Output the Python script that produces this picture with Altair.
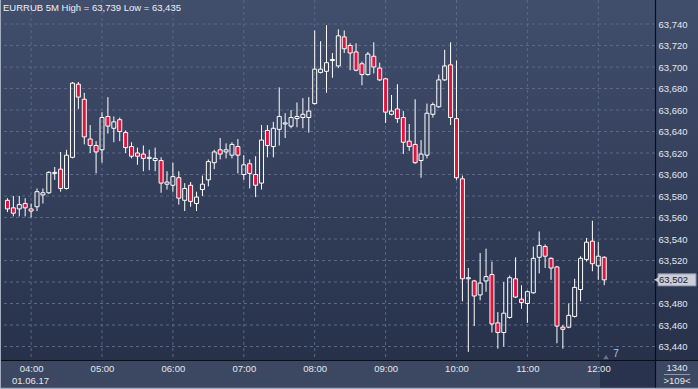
import altair as alt
import pandas as pd

# ---- data (EURRUB, 5-minute candles, 03:40 .. 12:05) ----
opens = [63.576, 63.569, 63.568, 63.573, 63.568, 63.570, 63.581, 63.583, 63.601, 63.605,
         63.587, 63.616, 63.684, 63.670, 63.633, 63.627, 63.623, 63.654, 63.643, 63.651,
         63.639, 63.626, 63.620, 63.619, 63.615, 63.613, 63.613, 63.591, 63.590, 63.597,
         63.576, 63.590, 63.573, 63.586, 63.595, 63.611, 63.623, 63.621, 63.618, 63.626,
         63.600, 63.610, 63.600, 63.592, 63.641, 63.626, 63.642, 63.647, 63.645, 63.652,
         63.653, 63.653, 63.666, 63.695, 63.696, 63.706, 63.701, 63.728, 63.720, 63.714,
         63.703, 63.693, 63.710, 63.699, 63.689, 63.656, 63.661, 63.653, 63.631, 63.628,
         63.613, 63.618, 63.656, 63.663, 63.688, 63.702, 63.652, 63.596, 63.503, 63.501,
         63.488, 63.501, 63.507, 63.462, 63.453, 63.467, 63.503, 63.484, 63.480, 63.490,
         63.523, 63.533, 63.522, 63.514, 63.458, 63.458, 63.468, 63.493, 63.521, 63.538,
         63.515, 63.523]
highs = [63.578, 63.580, 63.580, 63.578, 63.573, 63.587, 63.587, 63.603, 63.607, 63.621,
         63.623, 63.686, 63.686, 63.676, 63.646, 63.631, 63.658, 63.672, 63.654, 63.653,
         63.641, 63.630, 63.625, 63.627, 63.623, 63.625, 63.616, 63.603, 63.611, 63.603,
         63.592, 63.593, 63.584, 63.599, 63.614, 63.623, 63.634, 63.629, 63.630, 63.633,
         63.618, 63.614, 63.617, 63.646, 63.646, 63.649, 63.681, 63.657, 63.660, 63.667,
         63.671, 63.672, 63.734, 63.724, 63.739, 63.713, 63.735, 63.734, 63.722, 63.722,
         63.705, 63.714, 63.723, 63.704, 63.690, 63.674, 63.684, 63.659, 63.647, 63.670,
         63.632, 63.666, 63.667, 63.693, 63.716, 63.723, 63.706, 63.599, 63.513, 63.502,
         63.527, 63.531, 63.519, 63.472, 63.500, 63.506, 63.523, 63.497, 63.492, 63.533,
         63.547, 63.535, 63.523, 63.515, 63.460, 63.480, 63.503, 63.524, 63.541, 63.557,
         63.537, 63.524]
lows = [63.565, 63.561, 63.561, 63.561, 63.560, 63.566, 63.573, 63.582, 63.595, 63.584,
        63.586, 63.615, 63.661, 63.628, 63.620, 63.601, 63.611, 63.638, 63.630, 63.631,
        63.620, 63.615, 63.609, 63.603, 63.604, 63.603, 63.583, 63.586, 63.584, 63.572,
        63.566, 63.570, 63.566, 63.580, 63.589, 63.605, 63.614, 63.615, 63.615, 63.601,
        63.595, 63.587, 63.579, 63.586, 63.616, 63.616, 63.627, 63.634, 63.643, 63.644,
        63.643, 63.639, 63.665, 63.694, 63.676, 63.690, 63.699, 63.713, 63.697, 63.696,
        63.683, 63.692, 63.694, 63.687, 63.648, 63.655, 63.648, 63.619, 63.622, 63.610,
        63.597, 63.615, 63.653, 63.662, 63.687, 63.646, 63.595, 63.482, 63.435, 63.459,
        63.483, 63.491, 63.453, 63.438, 63.440, 63.466, 63.485, 63.475, 63.462, 63.489,
        63.508, 63.513, 63.502, 63.443, 63.438, 63.457, 63.467, 63.482, 63.519, 63.510,
        63.502, 63.497]
closes = [63.568, 63.564, 63.572, 63.569, 63.566, 63.584, 63.583, 63.602, 63.602, 63.587,
          63.618, 63.685, 63.672, 63.635, 63.627, 63.621, 63.653, 63.645, 63.649, 63.640,
          63.625, 63.617, 63.617, 63.615, 63.616, 63.615, 63.592, 63.593, 63.598, 63.578,
          63.587, 63.575, 63.579, 63.591, 63.612, 63.621, 63.619, 63.623, 63.628, 63.618,
          63.609, 63.601, 63.590, 63.632, 63.627, 63.643, 63.654, 63.648, 63.653, 63.654,
          63.656, 63.659, 63.698, 63.698, 63.704, 63.707, 63.729, 63.717, 63.713, 63.697,
          63.693, 63.712, 63.700, 63.688, 63.658, 63.659, 63.652, 63.630, 63.626, 63.611,
          63.619, 63.657, 63.665, 63.688, 63.701, 63.653, 63.597, 63.503, 63.504, 63.487,
          63.499, 63.505, 63.461, 63.453, 63.471, 63.504, 63.486, 63.481, 63.491, 63.522,
          63.534, 63.524, 63.513, 63.459, 63.456, 63.469, 63.495, 63.522, 63.537, 63.517,
          63.524, 63.502]

times = pd.date_range("2017-06-01 03:40", periods=len(opens), freq="5min")
# gridline prices; the 63,500 label is hidden behind the last-price tag in the reference
price_ticks = [63.44, 63.46, 63.48, 63.50, 63.52, 63.54, 63.56, 63.58, 63.60,
               63.62, 63.64, 63.66, 63.68, 63.70, 63.72, 63.74]
price_labels = [63.44, 63.46, 63.48, 63.52, 63.54, 63.56, 63.58, 63.60,
                63.62, 63.64, 63.66, 63.68, 63.70, 63.72, 63.74]
hour_labels = ["04:00", "05:00", "06:00", "07:00", "08:00", "09:00", "10:00", "11:00", "12:00"]
hour_minutes = [int(h[:2]) * 60 for h in hour_labels]
title_text = "EURRUB 5M High = 63,739 Low = 63,435"
date_text = "01.06.17"

df = pd.DataFrame({
    "t": [ts.hour * 60 + ts.minute for ts in times],
    "o": opens, "h": highs, "l": lows, "c": closes,
})
df["dir"] = ["up" if c >= o else "down" for o, c in zip(opens, closes)]
df["top"] = df[["o", "c"]].max(axis=1)
df["bot"] = df[["o", "c"]].min(axis=1)

W, H = 655, 360
FONT = "Liberation Sans"
TXT = "#e4e7ee"

xscale = alt.Scale(domain=[217.9167, 763.75], nice=False, zero=False)
yscale = alt.Scale(domain=[63.42745, 63.76233], nice=False, zero=False)

xaxis = alt.Axis(orient="bottom", values=hour_minutes,
                 labelExpr="(datum.value < 600 ? '0' : '') + floor(datum.value / 60) + ':00'",
                 grid=False, ticks=False, domain=False, labelPadding=8,
                 labelBaseline="middle", labelColor=TXT, labelFont=FONT, labelFontSize=9.5,
                 labelFlush=False, labelOverlap=False, title=None, zindex=1)
yaxis = alt.Axis(orient="right", values=price_labels,
                 labelExpr="replace(format(datum.value, '.3f'), '.', ',')",
                 grid=False, ticks=False, domain=False, labelPadding=3,
                 labelAlign="left", labelBaseline="middle", labelColor=TXT,
                 labelFont=FONT, labelFontSize=9.5, labelFlush=False,
                 labelOverlap=False, title=None, zindex=1)


def X(f):
    return alt.X(f, type="quantitative", scale=xscale, axis=xaxis)


def Y(f):
    return alt.Y(f, type="quantitative", scale=yscale, axis=yaxis)


one = pd.DataFrame({"k": [0]})

grad = alt.LinearGradient(gradient="linear", x1=0, x2=0, y1=0, y2=1,
                          stops=[alt.GradientStop(color="#414e6c", offset=0),
                                 alt.GradientStop(color="#27314a", offset=1)])
bg = alt.Chart(one).mark_rect(color=grad).encode(
    x=alt.value(0), x2=alt.value(698), y=alt.value(0), y2=alt.value(H))

hgrid = alt.Chart(pd.DataFrame({"p": price_ticks})).mark_rule(
    color="#5b6886", strokeDash=[3, 3], strokeWidth=1).encode(y=Y("p"))
vgrid = alt.Chart(pd.DataFrame({"m": hour_minutes})).mark_rule(
    color="#5b6886", strokeDash=[3, 3], strokeWidth=1).encode(x=X("m"))

base = alt.Chart(df)
wick_up = base.mark_rule(color="white", strokeWidth=1).encode(x=X("t"), y=Y("h"), y2="top")
wick_dn = base.mark_rule(color="white", strokeWidth=1).encode(x=X("t"), y=Y("bot"), y2="l")
body = base.mark_bar(size=4, stroke="white", strokeWidth=1).encode(
    x=X("t"), y=Y("o"), y2="c",
    fill=alt.Fill("dir:N", scale=alt.Scale(domain=["up", "down"],
                                           range=["transparent", "#e0143c"]), legend=None))

# frame lines
vline = alt.Chart(one).mark_rule(color="#0b0e14", strokeWidth=1.2).encode(
    x=alt.value(655.5), y=alt.value(0), y2=alt.value(389))
hline = alt.Chart(one).mark_rule(color="#0b0e14", strokeWidth=1.2).encode(
    x=alt.value(0), x2=alt.value(698), y=alt.value(360.5))
left_edge = alt.Chart(one).mark_rule(color="#a3acbe", strokeWidth=1).encode(
    x=alt.value(0.5), y=alt.value(0), y2=alt.value(389))
bottom_edge = alt.Chart(one).mark_rule(color="#a3acbe", strokeWidth=1.5).encode(
    x=alt.value(0), x2=alt.value(698), y=alt.value(388.5))

nav = alt.Chart(one).mark_rect(color="#27304a", opacity=0.85).encode(
    x=alt.value(600), x2=alt.value(655), y=alt.value(361), y2=alt.value(388))
nav_tri = alt.Chart(one).mark_point(shape="triangle-up", filled=True, color="#66718c",
                                    size=30, opacity=1).encode(x=alt.value(606), y=alt.value(357))
nav_num = alt.Chart(one).mark_text(text="7", color="#a9c7f5", font=FONT, fontSize=10,
                                   align="center", baseline="middle").encode(
    x=alt.value(616), y=alt.value(354))

title = alt.Chart(one).mark_text(text=title_text, color="#eef0f5", font=FONT, fontSize=9.5,
                                 align="left", baseline="middle").encode(
    x=alt.value(3), y=alt.value(8))
date_lbl = alt.Chart(one).mark_text(text=date_text, color=TXT, font=FONT, fontSize=9.5,
                                    align="left", baseline="middle").encode(
    x=alt.value(12), y=alt.value(381))
box1 = alt.Chart(one).mark_text(text="1340", color=TXT, font=FONT, fontSize=9.5,
                                align="center", baseline="middle").encode(
    x=alt.value(677), y=alt.value(368))
box_line = alt.Chart(one).mark_rule(color="#8f99ad", strokeWidth=1).encode(
    x=alt.value(664), x2=alt.value(690), y=alt.value(374.5))
box2 = alt.Chart(one).mark_text(text=">109<", color=TXT, font=FONT, fontSize=9.5,
                                align="center", baseline="middle").encode(
    x=alt.value(677), y=alt.value(381))

last = df.tail(1)[["c"]].reset_index(drop=True)
tag_base = alt.Chart(last).transform_calculate(
    hi="datum.c + 0.0056", lo="datum.c - 0.0056",
    lab="replace(format(datum.c, '.3f'), '.', ',')")
tag_rect = tag_base.mark_rect(fill="#c9ced8", stroke="#8a93a6", strokeWidth=1).encode(
    x=alt.value(658), x2=alt.value(696), y=Y("hi:Q"), y2="lo:Q")
tag_tri = tag_base.mark_point(shape="triangle-left", filled=True, color="#c9ced8",
                              size=45, opacity=1).encode(x=alt.value(657), y=Y("c"))
tag_txt = tag_base.mark_text(color="#1b2130", font=FONT, fontSize=9.5, align="left",
                             baseline="middle").encode(
    x=alt.value(659), y=Y("c"), text="lab:N")

chart = alt.layer(
    bg, hgrid, vgrid, wick_up, wick_dn, body, nav, nav_tri, nav_num,
    vline, hline, left_edge, bottom_edge, title, date_lbl, box1, box_line, box2,
    tag_rect, tag_tri, tag_txt,
).properties(
    width=W, height=H,
    padding={"left": 0, "top": 0, "right": 43, "bottom": 29},
    autosize=alt.AutoSizeParams(type="none"),
    background="#3c4862",
).configure_view(stroke=None)

chart.save("out.html", embed_options={"renderer": "svg", "actions": False})
